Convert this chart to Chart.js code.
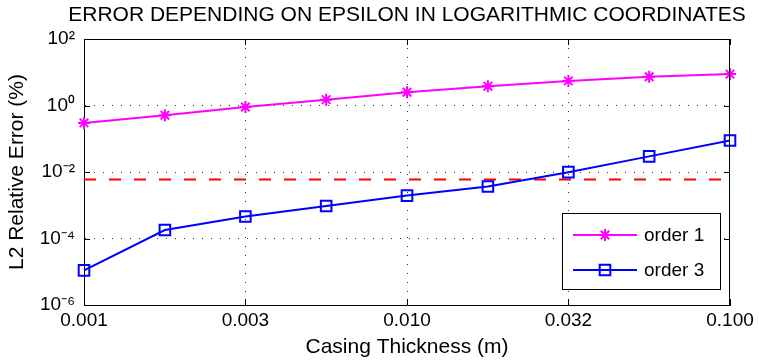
<!DOCTYPE html>
<html>
<head>
<meta charset="utf-8">
<script src="https://cdn.jsdelivr.net/npm/chart.js@4.4.1/dist/chart.umd.min.js"></script>
<style>
  html, body { margin: 0; padding: 0; background: #fff; }
  #wrap { width: 759px; height: 360px; }
</style>
</head>
<body>
<div id="wrap"><canvas id="errChart" width="759" height="360"></canvas></div>
<script>
// error vs casing thickness, log-log

var thickness = [0.001, 0.00178, 0.00316, 0.00562, 0.01, 0.0178, 0.0316, 0.0562, 0.1];
var order1 = [0.30, 0.51, 0.90, 1.5, 2.5, 3.8, 5.5, 7.3, 8.8];
var order3 = [1.1e-5, 1.8e-4, 4.6e-4, 9.5e-4, 1.95e-3, 3.65e-3, 9.9e-3, 2.95e-2, 8.9e-2];
var limitX = [0.001, 0.1];
var limitY = [5.9e-3, 5.9e-3];

var xTicks = [0.001, 0.00316, 0.01, 0.0316, 0.1];
var xTickLabels = ['0.001', '0.003', '0.010', '0.032', '0.100'];
var yTicks = [1e-6, 1e-4, 1e-2, 1, 100];
var yTickLabels = ['10\u207B\u2076', '10\u207B\u2074', '10\u207B\u00B2', '10\u2070', '10\u00B2'];

var FONT = 'Liberation Sans, Arial, Helvetica, sans-serif';

function points(xs, ys) {
  var out = [];
  for (var i = 0; i < xs.length; i++) {
    out.push({ x: xs[i], y: ys[i] });
  }
  return out;
}

function edgeGrid(ctx) {
  var n = ctx.scale.ticks.length;
  if (ctx.index === 0 || ctx.index === n - 1) return 'rgba(0,0,0,0)';
  return '#333';
}

// title, box top/right, inward ticks, legend in the corner
var decorations = {
  id: 'decorations',
  afterDraw: function(chart) {
    var ctx = chart.ctx;
    var a = chart.chartArea;
    ctx.save();

    ctx.fillStyle = '#000';
    ctx.font = '21px ' + FONT;
    ctx.textAlign = 'center';
    ctx.textBaseline = 'middle';
    ctx.fillText('ERROR DEPENDING ON EPSILON IN LOGARITHMIC COORDINATES', (a.left + a.right) / 2, 15);

    ctx.strokeStyle = '#000';
    ctx.lineWidth = 1;
    ctx.setLineDash([]);
    ctx.beginPath();
    ctx.moveTo(a.left, a.top + 0.5);
    ctx.lineTo(a.right, a.top + 0.5);
    ctx.moveTo(a.right - 0.5, a.top);
    ctx.lineTo(a.right - 0.5, a.bottom);
    ctx.stroke();

    var xs = chart.scales.x, ys = chart.scales.y;
    var tl = 6;
    ctx.beginPath();
    xs.ticks.forEach(function(t) {
      var px = Math.round(xs.getPixelForValue(t.value)) + 0.5;
      ctx.moveTo(px, a.bottom); ctx.lineTo(px, a.bottom - tl);
      ctx.moveTo(px, a.top); ctx.lineTo(px, a.top + tl);
    });
    ys.ticks.forEach(function(t) {
      var py = Math.round(ys.getPixelForValue(t.value)) + 0.5;
      ctx.moveTo(a.left, py); ctx.lineTo(a.left + tl, py);
      ctx.moveTo(a.right, py); ctx.lineTo(a.right - tl, py);
    });
    ctx.stroke();

    // legend box
    var bx = 562, by = 213, bw = 158, bh = 76;
    ctx.fillStyle = '#fff';
    ctx.fillRect(bx, by, bw, bh);
    ctx.strokeStyle = '#000';
    ctx.strokeRect(bx + 0.5, by + 0.5, bw, bh);
    var rows = [0, 1];
    rows.forEach(function(i) {
      var ds = chart.data.datasets[i];
      var cy = by + 22 + i * 35;
      ctx.strokeStyle = ds.borderColor;
      ctx.lineWidth = 2;
      ctx.setLineDash([]);
      ctx.beginPath();
      ctx.moveTo(bx + 11, cy);
      ctx.lineTo(bx + 75, cy);
      ctx.stroke();
      ctx.fillStyle = 'rgba(0,0,0,0)';
      Chart.helpers.drawPoint(ctx, {
        pointStyle: ds.pointStyle,
        radius: ds.pointRadius,
        rotation: 0,
        borderWidth: 2
      }, bx + 43, cy);
      ctx.fillStyle = '#000';
      ctx.font = '19px ' + FONT;
      ctx.textAlign = 'left';
      ctx.textBaseline = 'middle';
      ctx.fillText(ds.label, bx + 82, cy + 1);
    });

    ctx.restore();
  }
};

new Chart(document.getElementById('errChart'), {
  type: 'line',
  data: {
    datasets: [
      {
        label: 'order 1',
        data: points(thickness, order1),
        borderColor: '#ff00ff',
        backgroundColor: 'rgba(0,0,0,0)',
        borderWidth: 2,
        pointStyle: 'star',
        pointRadius: 6,
        pointBorderWidth: 2,
        pointBorderColor: '#ff00ff',
        clip: false
      },
      {
        label: 'order 3',
        data: points(thickness, order3),
        borderColor: '#0000ff',
        backgroundColor: 'rgba(0,0,0,0)',
        borderWidth: 2,
        pointStyle: 'rect',
        pointRadius: 7.5,
        pointBorderWidth: 2,
        pointBorderColor: '#0000ff',
        clip: false
      },
      {
        label: 'limit',
        data: points(limitX, limitY),
        borderColor: '#ff0000',
        borderWidth: 2,
        borderDash: [12, 13],
        pointRadius: 0
      }
    ]
  },
  options: {
    responsive: false,
    animation: false,
    maintainAspectRatio: false,
    layout: { padding: { top: 39, right: 29, left: 0, bottom: 0 } },
    plugins: {
      legend: { display: false },
      tooltip: { enabled: false },
      title: { display: false }
    },
    scales: {
      x: {
        type: 'logarithmic',
        min: 0.001,
        max: 0.1,
        afterBuildTicks: function(scale) {
          scale.ticks = xTicks.map(function(v) { return { value: v }; });
        },
        afterFit: function(scale) { scale.height = 55; },
        ticks: {
          autoSkip: false,
          maxRotation: 0,
          padding: 4,
          color: '#000',
          font: { family: FONT, size: 19 },
          callback: function(value, index) { return xTickLabels[index]; }
        },
        grid: {
          drawTicks: false,
          color: edgeGrid,
          lineWidth: 1
        },
        border: { display: true, color: '#000', width: 1, dash: [1, 8] },
        title: {
          display: true,
          text: 'Casing Thickness (m)',
          color: '#000',
          font: { family: FONT, size: 21 },
          padding: { top: 0, bottom: 0 }
        }
      },
      y: {
        type: 'logarithmic',
        min: 1e-6,
        max: 100,
        afterBuildTicks: function(scale) {
          scale.ticks = yTicks.map(function(v) { return { value: v }; });
        },
        afterFit: function(scale) { scale.width = 84; },
        ticks: {
          autoSkip: false,
          padding: 9,
          color: '#000',
          font: { family: FONT, size: 19 },
          callback: function(value, index) { return yTickLabels[index]; }
        },
        grid: {
          drawTicks: false,
          color: edgeGrid,
          lineWidth: 1
        },
        border: { display: true, color: '#000', width: 1, dash: [1, 8] },
        title: {
          display: true,
          text: 'L2 Relative Error (%)',
          color: '#000',
          font: { family: FONT, size: 21 },
          padding: { top: 5, bottom: 0 }
        }
      }
    }
  },
  plugins: [decorations]
});
</script>
</body>
</html>
